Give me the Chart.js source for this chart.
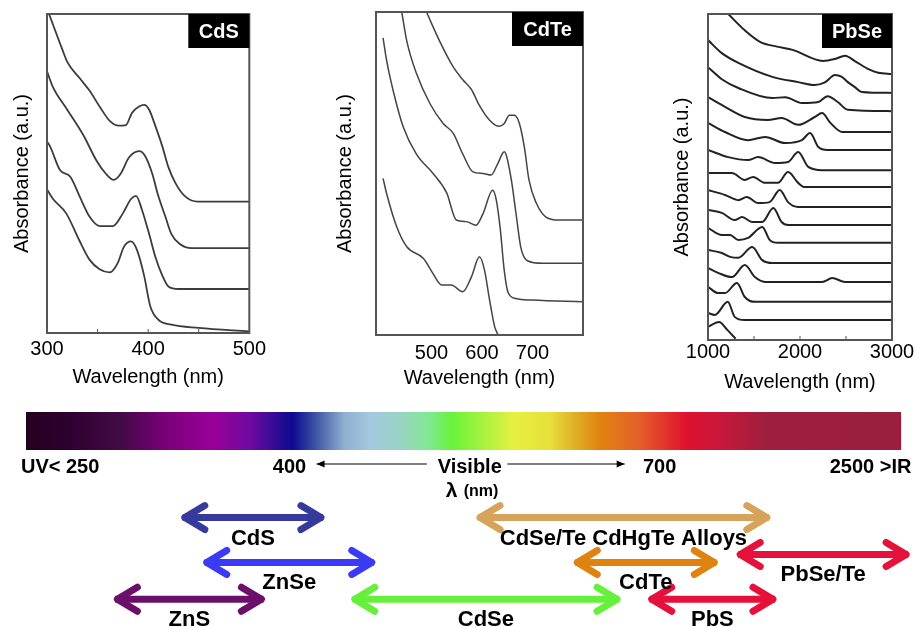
<!DOCTYPE html>
<html>
<head>
<meta charset="utf-8">
<script src="https://cdn.jsdelivr.net/npm/chart.js@4.4.1/dist/chart.umd.min.js"></script>
<style>
body { margin: 0; background: #fff; width: 917px; height: 628px; position: relative; overflow: hidden; }
canvas { position: absolute; }
</style>
</head>
<body>
<canvas id="cds" width="270" height="400" style="left:0;top:0"></canvas>
<canvas id="cdte" width="280" height="400" style="left:320px;top:0"></canvas>
<canvas id="pbse" width="257" height="400" style="left:660px;top:0"></canvas>
<canvas id="bar" width="917" height="105" style="left:0;top:400px"></canvas>
<canvas id="arrows" width="917" height="128" style="left:0;top:500px"></canvas>
<script>
"use strict";

// absorbance curves, [wavelength nm, absorbance a.u.]
const cds1 = [[302,1.00],[315,0.89],[320,0.85],[332,0.80],[342,0.76],[352,0.71],[362,0.665],[371,0.65],[378,0.652],[384,0.69],[391,0.71],[396,0.715],[401,0.70],[407,0.65],[414,0.585],[420,0.52],[427,0.47],[436,0.43],[449,0.412],[500,0.412]];
const cds2 = [[300,0.82],[306,0.77],[320,0.70],[336,0.62],[349,0.54],[358,0.50],[366,0.48],[373,0.50],[381,0.55],[391,0.57],[397,0.555],[404,0.50],[410,0.43],[417,0.365],[423,0.31],[431,0.28],[443,0.266],[500,0.266]];
const cds3 = [[300,0.60],[303,0.585],[313,0.51],[323,0.49],[332,0.43],[342,0.365],[352,0.335],[365,0.335],[375,0.375],[383,0.42],[388,0.43],[394,0.385],[401,0.31],[407,0.24],[414,0.18],[420,0.146],[430,0.138],[500,0.138]];
const cds4 = [[300,0.45],[306,0.42],[319,0.375],[332,0.29],[342,0.23],[352,0.20],[362,0.19],[370,0.22],[376,0.27],[383,0.287],[389,0.26],[396,0.18],[402,0.085],[410,0.042],[423,0.026],[450,0.016],[500,0.005]];

const cdte1 = [[490,1.00],[516,0.91],[543,0.83],[562,0.79],[579,0.76],[595,0.71],[615,0.665],[634,0.646],[644,0.655],[654,0.68],[664,0.68],[674,0.655],[684,0.58],[693,0.48],[707,0.41],[726,0.366],[752,0.356],[800,0.356]];
const cdte2 = [[441,1.00],[451,0.91],[470,0.81],[497,0.716],[523,0.655],[543,0.624],[562,0.56],[582,0.505],[602,0.50],[618,0.495],[631,0.53],[644,0.567],[657,0.49],[667,0.38],[677,0.27],[690,0.23],[720,0.222],[800,0.222]];
const cdte3 = [[404,0.92],[411,0.85],[425,0.75],[444,0.644],[470,0.56],[503,0.50],[530,0.44],[549,0.356],[569,0.351],[588,0.34],[602,0.376],[621,0.448],[628,0.42],[636,0.33],[644,0.20],[652,0.13],[667,0.113],[700,0.108],[800,0.103]];
const cdte4 = [[404,0.485],[411,0.438],[431,0.335],[451,0.273],[484,0.237],[503,0.19],[520,0.155],[539,0.155],[562,0.134],[579,0.18],[595,0.242],[605,0.20],[615,0.108],[625,0.026],[632,0.0]];

const pbse1 = [[1220,1.00],[1400,0.95],[1570,0.914],[1750,0.90],[1920,0.89],[2250,0.856],[2380,0.862],[2490,0.872],[2600,0.855],[2750,0.83],[2850,0.82],[3000,0.816]];
const pbse2 = [[1000,0.92],[1150,0.88],[1330,0.85],[1700,0.807],[1980,0.791],[2160,0.782],[2270,0.79],[2380,0.813],[2450,0.808],[2520,0.791],[2600,0.775],[2670,0.761],[3000,0.758]];
const pbse3 = [[1000,0.837],[1150,0.80],[1330,0.773],[1700,0.742],[1840,0.745],[2020,0.727],[2200,0.730],[2300,0.748],[2410,0.730],[2520,0.706],[3000,0.702]];
const pbse4 = [[1000,0.745],[1185,0.715],[1400,0.684],[1650,0.675],[1800,0.681],[1980,0.660],[2160,0.684],[2240,0.696],[2330,0.666],[2460,0.638],[3000,0.638]];
const pbse5 = [[1000,0.666],[1185,0.638],[1435,0.613],[1620,0.623],[1840,0.604],[2020,0.613],[2110,0.635],[2200,0.592],[2300,0.583],[3000,0.583]];
const pbse6 = [[1000,0.583],[1220,0.561],[1435,0.552],[1545,0.561],[1730,0.543],[1870,0.546],[1980,0.577],[2090,0.531],[2240,0.521],[3000,0.521]];
const pbse7 = [[1000,0.512],[1260,0.512],[1400,0.491],[1490,0.500],[1620,0.482],[1760,0.482],[1870,0.515],[1980,0.482],[2050,0.469],[3000,0.469]];
const pbse8 = [[1000,0.460],[1185,0.445],[1330,0.429],[1420,0.439],[1545,0.420],[1670,0.423],[1780,0.460],[1870,0.423],[1980,0.408],[3000,0.408]];
const pbse9 = [[1000,0.399],[1150,0.390],[1290,0.368],[1370,0.377],[1480,0.362],[1590,0.362],[1710,0.405],[1800,0.362],[1870,0.353],[3000,0.353]];
const pbse10 = [[1000,0.344],[1150,0.322],[1240,0.322],[1330,0.307],[1435,0.313],[1590,0.347],[1670,0.307],[1760,0.298],[3000,0.298]];
const pbse11 = [[1000,0.276],[1150,0.267],[1240,0.255],[1330,0.252],[1480,0.285],[1590,0.245],[1700,0.236],[3000,0.236]];
const pbse12 = [[1000,0.221],[1110,0.206],[1260,0.193],[1400,0.230],[1510,0.193],[1620,0.178],[2240,0.178],[2350,0.190],[2490,0.178],[3000,0.178]];
const pbse13 = [[1000,0.163],[1110,0.144],[1185,0.144],[1315,0.175],[1400,0.132],[1510,0.117],[3000,0.117]];
const pbse14 = [[1000,0.083],[1075,0.077],[1215,0.117],[1290,0.071],[1400,0.061],[3000,0.061]];
const pbse15 = [[1000,0.040],[1120,0.055],[1210,0.031],[1300,0.004]];

// axis ticks
const cdsTicks = [300, 400, 500];
const cdteTicks = [500, 600, 700];
const pbseTicks = [1000, 2000, 3000];
const cdsMinor = [350, 400, 450];
const pbseMinor = [1500, 2000, 2500];

// spectrum bar, position along the bar in %
const specTickPos = [3.9, 30.1, 50.7, 72.4, 96.5];
const specTickLabels = ["UV< 250", "400", "Visible", "700", "2500 >IR"];
const visArrows = [[33.2, 45.8], [55.0, 68.4]];
const specStops = [0, 0.05, 0.107, 0.16, 0.213, 0.256, 0.305, 0.336, 0.364, 0.393, 0.427, 0.461, 0.487, 0.53, 0.558, 0.598, 0.627, 0.655, 0.70, 0.755, 0.792, 0.849, 1];
const specColors = ["#240020", "#2e0030", "#420a44", "#7a007a", "#990099", "#6e0aa0", "#0b0b90", "#4a62a8", "#90b0d0", "#a3c8e0", "#9ad4c4", "#80e890", "#6af23a", "#b4f240", "#e6f040", "#e8e03c", "#e0b028", "#e08410", "#e4602a", "#e0102e", "#c8183a", "#9c1f3e", "#9a1e3e"];

// material ranges (position along the bar in %) and lanes
const matNames = ["CdS", "ZnSe", "ZnS", "CdSe", "CdSe/Te CdHgTe Alloys", "CdTe", "PbSe/Te", "PbS"];
const matFrom = [17.9, 20.4, 10.2, 37.3, 51.6, 62.7, 81.3, 71.2];
const matTo = [33.9, 39.7, 27.1, 67.7, 84.8, 78.8, 100.7, 85.5];
const matLane = [1.1, 3.9, 6.2, 6.2, 1.1, 3.9, 3.4, 6.2];
const matColors = ["#363b9b", "#3b3bf5", "#6b0f6b", "#66f03c", "#d6a35b", "#e0820f", "#e6113b", "#e6113b"];

Chart.defaults.font.family = "'Liberation Sans', Arial, sans-serif";
Chart.defaults.color = "#000";
Chart.defaults.animation = false;

const framePlugin = {
    id: "frame",
    afterDraw(chart, args, o) {
        const a = chart.chartArea;
        const ctx = chart.ctx;
        const x = chart.scales.x;
        ctx.save();
        ctx.strokeStyle = "#555";
        ctx.lineWidth = 2;
        ctx.strokeRect(a.left, a.top, a.right - a.left, a.bottom - a.top);
        ctx.lineWidth = 1;
        (o.minor || []).forEach(v => {
            const px = x.getPixelForValue(v);
            ctx.beginPath();
            ctx.moveTo(px, a.bottom);
            ctx.lineTo(px, a.bottom - 4);
            ctx.stroke();
        });
        ctx.fillStyle = "#000";
        ctx.fillRect(a.right - o.boxW, a.top, o.boxW, 34);
        ctx.fillStyle = "#fff";
        ctx.font = "bold 20px 'Liberation Sans', Arial, sans-serif";
        ctx.textAlign = "center";
        ctx.textBaseline = "middle";
        ctx.fillText(o.label, a.right - o.boxW / 2, a.top + 18);
        ctx.restore();
    }
};

function spectrumChart(id, curves, s)
{
    return new Chart(document.getElementById(id), {
        type: "line",
        data: {
            datasets: curves.map(c => ({
                data: c.map(p => ({ x: p[0], y: p[1] })),
                borderColor: s.color,
                borderWidth: s.width,
                pointRadius: 0,
                cubicInterpolationMode: "monotone",
                fill: false,
            })),
        },
        options: {
            responsive: false,
            layout: { padding: { left: s.padL, top: s.padT, right: s.padR, bottom: 0 } },
            plugins: {
                legend: { display: false },
                tooltip: { enabled: false },
                frame: { label: s.label, boxW: s.boxW, minor: s.minor },
            },
            scales: {
                x: {
                    type: "linear",
                    min: s.min,
                    max: s.max,
                    afterBuildTicks: sc => { sc.ticks = s.ticks.map(v => ({ value: v })); },
                    afterFit: sc => { sc.height = s.xH; },
                    grid: { display: false, drawTicks: false },
                    border: { display: false },
                    ticks: {
                        font: { size: 20 },
                        padding: s.tickPad,
                        autoSkip: false,
                        maxRotation: 0,
                        callback: v => String(v),
                    },
                    title: { display: true, text: "Wavelength (nm)", font: { size: 20 }, padding: { top: 0, bottom: s.titlePad } },
                },
                y: {
                    min: 0,
                    max: 1,
                    afterFit: sc => { sc.width = s.yW; },
                    ticks: { display: false },
                    grid: { display: false, drawTicks: false },
                    border: { display: false },
                    title: { display: true, text: "Absorbance (a.u.)", font: { size: 20 }, padding: { top: 0, bottom: 0 } },
                },
            },
        },
        plugins: [framePlugin],
    });
}

spectrumChart("cds", [cds1, cds2, cds3, cds4], {
    min: 300, max: 500, ticks: cdsTicks, minor: cdsMinor, label: "CdS", boxW: 61,
    padL: 10, yW: 37, padT: 14, padR: 18, xH: 67, tickPad: 4, titlePad: 11,
    color: "#3c3c3c", width: 1.8,
});
spectrumChart("cdte", [cdte1, cdte2, cdte3, cdte4], {
    min: 390, max: 800, ticks: cdteTicks, minor: [], label: "CdTe", boxW: 71,
    padL: 13, yW: 43, padT: 12, padR: 17, xH: 65, tickPad: 6, titlePad: 10,
    color: "#444", width: 1.5,
});
spectrumChart("pbse", [pbse1, pbse2, pbse3, pbse4, pbse5, pbse6, pbse7, pbse8, pbse9, pbse10, pbse11, pbse12, pbse13, pbse14, pbse15], {
    min: 1000, max: 3000, ticks: pbseTicks, minor: pbseMinor, label: "PbSe", boxW: 70,
    padL: 10, yW: 38, padT: 14, padR: 25, xH: 60, tickPad: 0, titlePad: 6,
    color: "#222", width: 2,
});

// spectrum colour bar with wavelength markers
const visiblePlugin = {
    id: "visible",
    afterDraw(chart) {
        const ctx = chart.ctx;
        const x = chart.scales.x;
        const y = 64;
        ctx.save();
        ctx.strokeStyle = "#000";
        ctx.fillStyle = "#000";
        ctx.lineWidth = 1.2;
        visArrows.forEach((r, i) => {
            const xa = x.getPixelForValue(r[0]);
            const xb = x.getPixelForValue(r[1]);
            ctx.beginPath();
            ctx.moveTo(xa, y);
            ctx.lineTo(xb, y);
            ctx.stroke();
            const tip = i === 0 ? xa : xb;
            const dir = i === 0 ? 1 : -1;
            ctx.beginPath();
            ctx.moveTo(tip, y);
            ctx.lineTo(tip + dir * 8, y - 3.5);
            ctx.lineTo(tip + dir * 8, y + 3.5);
            ctx.closePath();
            ctx.fill();
        });
        const vx = x.getPixelForValue(specTickPos[2]);
        ctx.textBaseline = "middle";
        ctx.textAlign = "left";
        ctx.font = "bold 21px 'Liberation Sans', Arial, sans-serif";
        ctx.fillText("λ", vx - 24, 91);
        ctx.font = "bold 16px 'Liberation Sans', Arial, sans-serif";
        ctx.fillText("(nm)", vx - 6, 92);
        ctx.restore();
    }
};

function barGradient(chart)
{
    const a = chart.chartArea;
    if (!a) return "#888";
    const g = chart.ctx.createLinearGradient(a.left, 0, a.right, 0);
    specStops.forEach((s, i) => g.addColorStop(s, specColors[i]));
    return g;
}

new Chart(document.getElementById("bar"), {
    type: "bar",
    data: {
        labels: ["spectrum"],
        datasets: [{
            data: [[0, 100]],
            backgroundColor: ctx => barGradient(ctx.chart),
            borderWidth: 0,
            barPercentage: 1,
            categoryPercentage: 1,
        }],
    },
    options: {
        indexAxis: "y",
        responsive: false,
        layout: { padding: { left: 26, right: 15, top: 12, bottom: 0 } },
        plugins: { legend: { display: false }, tooltip: { enabled: false } },
        scales: {
            y: { display: false },
            x: {
                type: "linear",
                min: 0,
                max: 100,
                afterBuildTicks: sc => { sc.ticks = specTickPos.map(v => ({ value: v })); },
                afterFit: sc => { sc.height = 55; },
                grid: { display: false, drawTicks: false },
                border: { display: false },
                ticks: {
                    font: { size: 20, weight: "bold" },
                    padding: 5,
                    autoSkip: false,
                    maxRotation: 0,
                    callback: (v, i) => specTickLabels[i],
                },
            },
        },
    },
    plugins: [visiblePlugin],
});

// double headed arrows for each material
const arrowPlugin = {
    id: "arrowHeads",
    afterDatasetsDraw(chart) {
        const ctx = chart.ctx;
        ctx.save();
        chart.data.datasets.forEach((ds, i) => {
            const pts = chart.getDatasetMeta(i).data;
            const p0 = pts[0], p1 = pts[1];
            ctx.strokeStyle = ds.borderColor;
            ctx.lineWidth = 7;
            ctx.lineCap = "round";
            ctx.lineJoin = "round";
            ctx.beginPath();
            ctx.moveTo(p0.x + 22, p0.y - 12);
            ctx.lineTo(p0.x + 2, p0.y);
            ctx.lineTo(p0.x + 22, p0.y + 12);
            ctx.moveTo(p1.x - 22, p1.y - 12);
            ctx.lineTo(p1.x - 2, p1.y);
            ctx.lineTo(p1.x - 22, p1.y + 12);
            ctx.stroke();
        });
        ctx.fillStyle = "#000";
        ctx.font = "bold 22px 'Liberation Sans', Arial, sans-serif";
        ctx.textAlign = "center";
        ctx.textBaseline = "middle";
        chart.data.datasets.forEach((ds, i) => {
            const pts = chart.getDatasetMeta(i).data;
            ctx.fillText(ds.label, (pts[0].x + pts[1].x) / 2, pts[0].y + 21);
        });
        ctx.restore();
    }
};

new Chart(document.getElementById("arrows"), {
    type: "line",
    data: {
        datasets: matNames.map((n, i) => ({
            label: n,
            data: [{ x: matFrom[i], y: matLane[i] }, { x: matTo[i], y: matLane[i] }],
            borderColor: matColors[i],
            borderWidth: 7,
            borderCapStyle: "butt",
            pointRadius: 0,
            clip: false,
        })),
    },
    options: {
        responsive: false,
        layout: { padding: { left: 26, right: 15, top: 0, bottom: 0 } },
        plugins: { legend: { display: false }, tooltip: { enabled: false } },
        scales: {
            x: { type: "linear", min: 0, max: 100, display: false },
            y: { min: 0, max: 8, reverse: true, display: false },
        },
    },
    plugins: [arrowPlugin],
});
</script>
</body>
</html>
